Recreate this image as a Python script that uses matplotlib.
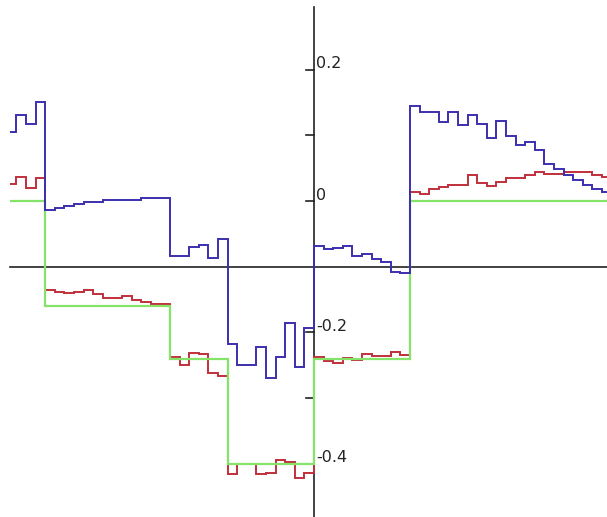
import matplotlib
matplotlib.use("Agg")
import matplotlib.pyplot as plt
import numpy as np

# bin edges: first bin is partial, then unit-width bins, last one partial
x_start, x_end = -31.7, 30.5
edges = np.concatenate([[x_start], np.arange(-31, 31), [x_end]])

blue_vals = [
    0.105, 0.131, 0.117, 0.150,
    -0.013, -0.010, -0.007, -0.005, -0.001, -0.001, 0.002, 0.002, 0.002, 0.002,
    0.004, 0.004, 0.004,
    -0.083, -0.083, -0.070, -0.067, -0.086, -0.058,
    -0.217, -0.250, -0.250, -0.222, -0.270, -0.237, -0.186, -0.252, -0.194,
    -0.068, -0.073, -0.071, -0.068, -0.084, -0.081, -0.089, -0.093, -0.108, -0.110,
    0.145, 0.136, 0.136, 0.120, 0.136, 0.115, 0.131, 0.117, 0.096, 0.122, 0.099,
    0.086, 0.090, 0.077, 0.056, 0.049, 0.040, 0.032, 0.025, 0.018, 0.013,
]

red_vals = [
    0.026, 0.037, 0.020, 0.035,
    -0.135, -0.138, -0.140, -0.138, -0.135, -0.142, -0.147, -0.147, -0.145,
    -0.150, -0.154, -0.157, -0.157,
    -0.237, -0.249, -0.231, -0.233, -0.262, -0.266,
    -0.416, -0.401, -0.401, -0.416, -0.414, -0.394, -0.397, -0.421, -0.414,
    -0.238, -0.244, -0.246, -0.239, -0.242, -0.233, -0.236, -0.236, -0.230, -0.234,
    0.013, 0.010, 0.018, 0.022, 0.025, 0.025, 0.039, 0.028, 0.023, 0.029, 0.035,
    0.035, 0.040, 0.044, 0.041, 0.041, 0.044, 0.044, 0.044, 0.040, 0.037,
]

green_edges = [x_start, -28, -15, -9, 0, 10, x_end]
green_vals = [0.0, -0.16, -0.24, -0.40, -0.24, 0.0]

ytick_vals = [0.2, 0.1, 0.0, -0.2, -0.3, -0.4]
ytick_labels = {0.2: "0.2", 0.0: "0", -0.2: "-0.2", -0.4: "-0.4"}
x_axis_y = -0.1

fig = plt.figure(figsize=(6.07, 5.17), dpi=100)
ax = fig.add_axes([0, 0, 1, 1])
ax.set_xlim(-32.71, 30.52)
ax.set_ylim(-0.481, 0.306)
ax.axis("off")

# axes drawn through the plot
ax.plot([x_start, 30.52], [x_axis_y, x_axis_y], color="#222222", lw=1.2, zorder=1)
ax.plot([0, 0], [0.295, -0.481], color="#222222", lw=1.2, zorder=1)
for v in ytick_vals:
    ax.plot([-0.85, 0], [v, v], color="#222222", lw=1.2, zorder=1)
    if v in ytick_labels:
        ax.text(0.25, v + 0.002, ytick_labels[v], fontsize=11.5, color="#222222",
                ha="left", va="baseline")

ax.stairs(red_vals, edges, baseline=None, color="#c0303c", lw=1.4, zorder=2)
ax.stairs(green_vals, green_edges, baseline=None, color="#86e36a", lw=1.6, zorder=3)
ax.stairs(blue_vals, edges, baseline=None, color="#3b2fae", lw=1.4, zorder=4)

fig.savefig("out.png", dpi=100)
